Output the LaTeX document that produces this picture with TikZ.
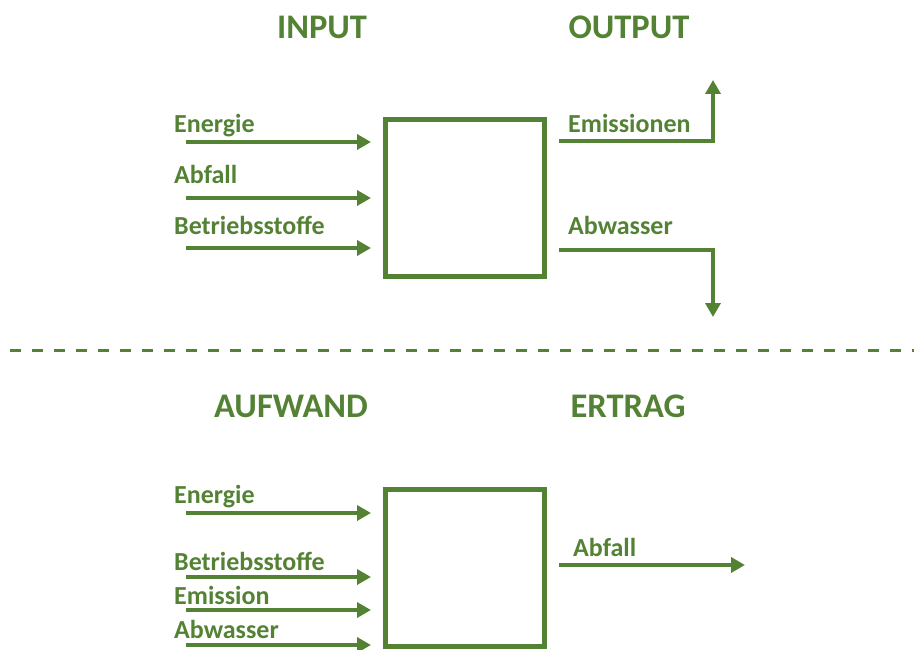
\documentclass[tikz,border=0pt]{standalone}
\usepackage{fontspec}
\setmainfont{Carlito}
\usetikzlibrary{arrows.meta}
\definecolor{leaf}{RGB}{84,130,53}
\begin{document}
\begin{tikzpicture}[x=1pt,y=-1pt,
  flow/.style={draw=leaf,line width=4.2pt,-{Triangle[length=14pt,width=15pt]}},
  unit/.style={draw=leaf,line width=4.8pt,minimum width=159pt,minimum height=157pt,inner sep=0pt},
  lbl/.style={anchor=base west,inner sep=0pt,text=leaf,font=\bfseries\fontsize{26}{28}\selectfont},
  head/.style={anchor=base,inner sep=0pt,text=leaf,font=\bfseries\fontsize{34.5}{38}\selectfont}]
\useasboundingbox (0,0) rectangle (914,650);

% upper half: input / output
\node[head] (hin) at (322,39) {INPUT};
\node[head] (hout) at (629,39) {OUTPUT};
\node[unit] (boxA) at (465,198) {};

\node[lbl] (t1) at (174,132.5) {Energie};
\node[lbl] (t2) at (174,183.5) {Abfall};
\node[lbl] (t3) at (174,234.5) {Betriebsstoffe};
\coordinate (a1s) at (186,142); \coordinate (a1e) at (371,142);
\coordinate (a2s) at (186,198); \coordinate (a2e) at (371,198);
\coordinate (a3s) at (186,248); \coordinate (a3e) at (371,248);
\draw[flow] (a1s) -- (a1e);
\draw[flow] (a2s) -- (a2e);
\draw[flow] (a3s) -- (a3e);

\node[lbl] (t4) at (568,132.5) {Emissionen};
\node[lbl] (t5) at (568,234.5) {Abwasser};
\coordinate (e1s) at (559,141); \coordinate (e1e) at (713,80);
\coordinate (e2s) at (559,250); \coordinate (e2e) at (713,317);
\draw[flow] (e1s) -| (e1e);
\draw[flow] (e2s) -| (e2e);

% separator
\coordinate (sepL) at (10,350); \coordinate (sepR) at (914,350);
\draw[leaf,line width=3pt,dash pattern=on 11pt off 11pt] (sepL) -- (sepR);

% lower half: expense / yield
\node[head] (hauf) at (291,417) {AUFWAND};
\node[head] (hert) at (628,417) {ERTRAG};
\node[unit] (boxB) at (465,568) {};

\node[lbl] (u1) at (174,503.5) {Energie};
\node[lbl] (u2) at (174,570.5) {Betriebsstoffe};
\node[lbl] (u3) at (174,604.5) {Emission};
\node[lbl] (u4) at (174,638.5) {Abwasser};
\coordinate (b1s) at (186,513); \coordinate (b1e) at (371,513);
\coordinate (b2s) at (186,577); \coordinate (b2e) at (371,577);
\coordinate (b3s) at (186,610); \coordinate (b3e) at (371,610);
\coordinate (b4s) at (186,645); \coordinate (b4e) at (371,645);
\draw[flow] (b1s) -- (b1e);
\draw[flow] (b2s) -- (b2e);
\draw[flow] (b3s) -- (b3e);
\draw[flow] (b4s) -- (b4e);

\node[lbl] (u5) at (573,556.5) {Abfall};
\coordinate (c1s) at (559,565); \coordinate (c1e) at (745,565);
\draw[flow] (c1s) -- (c1e);
\end{tikzpicture}
\end{document}
